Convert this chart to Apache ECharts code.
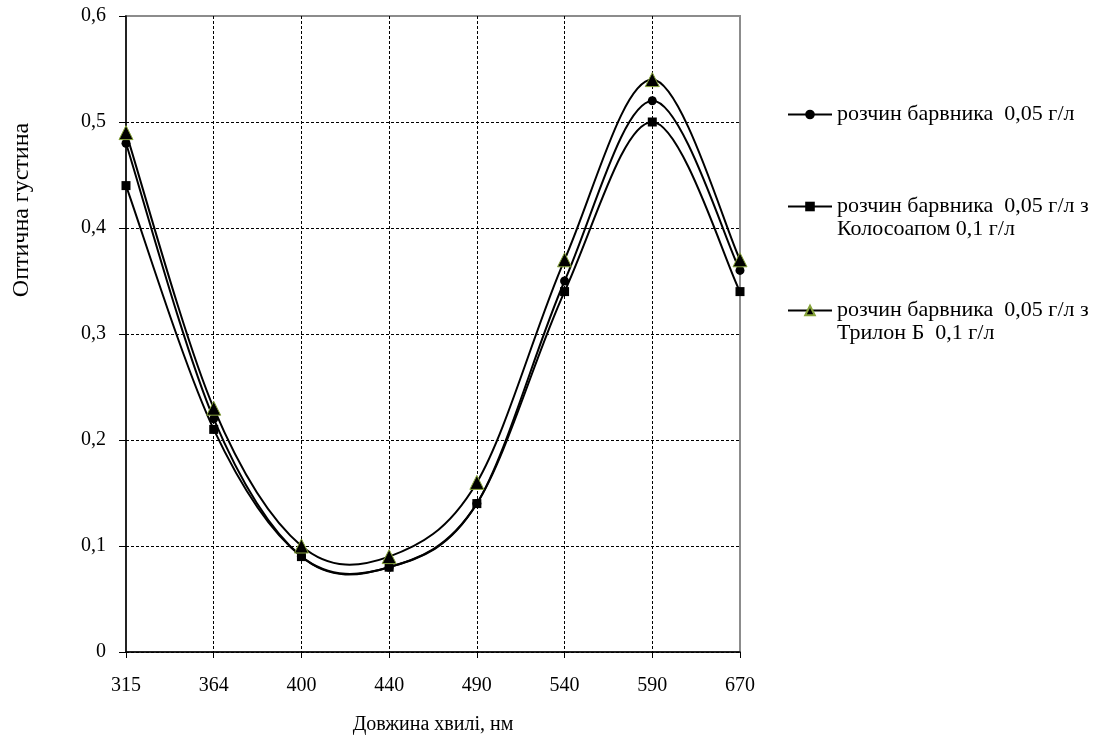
<!DOCTYPE html>
<html>
<head>
<meta charset="utf-8">
<script src="https://cdn.jsdelivr.net/npm/echarts@6/dist/echarts.min.js"></script>
<style>
html,body{margin:0;padding:0;background:#fff;}
#c{width:1114px;height:742px;}
</style>
</head>
<body>
<div id="c"></div>
<script>
const categories = ['315', '364', '400', '440', '490', '540', '590', '670'];
const seriesNames = [
  'розчин барвника  0,05 г/л',
  'розчин барвника  0,05 г/л з\nКолосоапом 0,1 г/л',
  'розчин барвника  0,05 г/л з\nТрилон Б  0,1 г/л'
];
const dyeOnly = [0.48, 0.22, 0.09, 0.08, 0.14, 0.35, 0.52, 0.36];
const withKolosoap = [0.44, 0.21, 0.09, 0.08, 0.14, 0.34, 0.50, 0.34];
const withTrilon = [0.49, 0.23, 0.10, 0.09, 0.16, 0.37, 0.54, 0.37];
const yTicks = [0, 0.1, 0.2, 0.3, 0.4, 0.5, 0.6];
const xTitle = 'Довжина хвилі, нм';
const yTitle = 'Оптична густина';

const FONT = '"Liberation Serif", "Times New Roman", serif';
const chart = echarts.init(document.getElementById('c'), null, {renderer: 'canvas'});

function legendCfg(name, top) {
  return {
    data: [name],
    left: 782, top: top, orient: 'vertical',
    itemWidth: 44, itemHeight: 12, itemGap: 0,
    formatter: function (n) { return n.indexOf('\n') >= 0 ? '\n' + n : n; },
    textStyle: {fontFamily: FONT, fontSize: 22, color: '#000', lineHeight: 23},
    lineStyle: {color: '#000', width: 2, opacity: 1},
    inactiveColor: '#000'
  };
}

// Smooth curve (Excel-like Catmull-Rom) drawn through the data via the axes' scales
function curveSeries(values, name) {
  return {
    type: 'custom', name: name + ' curve', silent: true, z: 1,
    data: values.map(function (v, i) { return [i, v]; }),
    encode: {x: 0, y: 1},
    renderItem: function (params, api) {
      const i = params.dataIndex;
      const n = values.length;
      if (i >= n - 1) return null;
      const p = function (j) {
        j = Math.max(0, Math.min(n - 1, j));
        return api.coord([j, values[j]]);
      };
      const p0 = p(i - 1), p1 = p(i), p2 = p(i + 1), p3 = p(i + 2);
      return {
        type: 'bezierCurve',
        shape: {
          x1: p1[0], y1: p1[1], x2: p2[0], y2: p2[1],
          cpx1: p1[0] + (p2[0] - p0[0]) / 6, cpy1: p1[1] + (p2[1] - p0[1]) / 6,
          cpx2: p2[0] - (p3[0] - p1[0]) / 6, cpy2: p2[1] - (p3[1] - p1[1]) / 6
        },
        style: {stroke: '#000', lineWidth: 2, fill: null}
      };
    }
  };
}

function markerSeries(name, values, symbol, size, itemStyle) {
  return {
    name: name, type: 'line', data: values, symbol: symbol, symbolSize: size,
    lineStyle: {color: '#000', width: 2, opacity: 0}, itemStyle: itemStyle, z: 3
  };
}

chart.setOption({
  animation: false,
  backgroundColor: '#fff',
  grid: {left: 126, right: 374, top: 16, bottom: 90, show: true, borderColor: '#8c8c8c', borderWidth: 2, backgroundColor: 'transparent'},
  legend: [
    legendCfg(seriesNames[0], 98),
    legendCfg(seriesNames[1], 167),
    legendCfg(seriesNames[2], 271)
  ],
  xAxis: {
    type: 'category', data: categories, boundaryGap: false,
    name: xTitle, nameLocation: 'middle', nameGap: 63,
    nameTextStyle: {fontFamily: FONT, fontSize: 20, color: '#000'},
    axisLine: {lineStyle: {color: '#000', width: 1.5}},
    axisTick: {show: true, length: 6, lineStyle: {color: '#000'}},
    axisLabel: {fontFamily: FONT, fontSize: 20, color: '#000', margin: 24},
    splitLine: {show: true, interval: function (i) { return i !== 0 && i !== categories.length - 1; }, lineStyle: {color: '#000', type: [3, 2], width: 1}}
  },
  yAxis: {
    type: 'value', min: yTicks[0], max: yTicks[yTicks.length - 1], interval: 0.1,
    axisLine: {show: true, lineStyle: {color: '#000', width: 1.5}},
    axisTick: {show: true, length: 7, lineStyle: {color: '#000'}},
    axisLabel: {fontFamily: FONT, fontSize: 20, color: '#000', margin: 20,
      formatter: function (v) { return v === 0 ? '0' : v.toFixed(1).replace('.', ','); }},
    splitLine: {show: true, showMaxLine: false, lineStyle: {color: '#000', type: [3, 2], width: 1}}
  },
  graphic: [{
    type: 'text', x: 22, y: 210, rotation: Math.PI / 2,
    style: {text: yTitle, font: '24px ' + FONT, fill: '#000', textAlign: 'center', textVerticalAlign: 'middle'}
  }],
  series: [
    curveSeries(withKolosoap, seriesNames[1]),
    curveSeries(dyeOnly, seriesNames[0]),
    curveSeries(withTrilon, seriesNames[2]),
    markerSeries(seriesNames[0], dyeOnly, 'circle', 9, {color: '#000'}),
    markerSeries(seriesNames[1], withKolosoap, 'rect', 9, {color: '#000'}),
    markerSeries(seriesNames[2], withTrilon, 'triangle', 14, {color: '#000', borderColor: '#86a33a', borderWidth: 1})
  ]
});
</script>
</body>
</html>
